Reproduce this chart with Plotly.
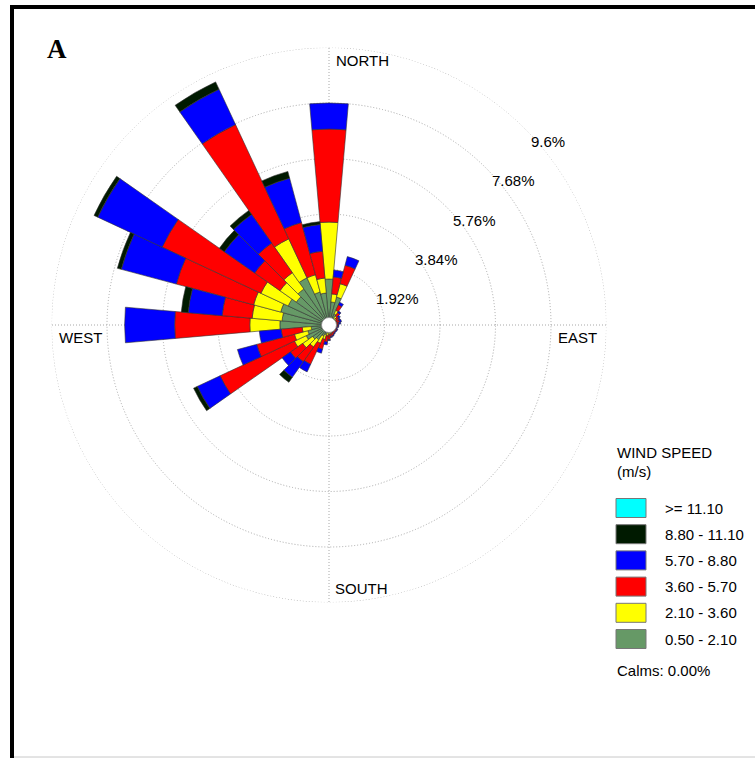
import plotly.graph_objects as go

# Wind directions (degrees clockwise from north), one bar every 10 degrees
directions = list(range(0, 360, 10))

# Frequency (%) of each wind-speed class per direction
calm_to_2_1 = [1.59, 0.80, 1.00, 0.42, 0.28, 0.21, 0.21, 0.21, 0.17, 0.17, 0.17, 0.17,
               0.17, 0.17, 0.17, 0.17, 0.21, 0.21, 0.24, 0.28, 0.35, 0.42, 0.62, 0.69,
               0.87, 0.76, 0.62, 1.70, 1.63, 1.73, 1.56, 1.38, 1.52, 1.80, 1.18, 1.11]
s2_1_to_3_6 = [1.97, 0.28, 0.48, 0.14, 0.10, 0.10, 0.07, 0.07, 0.10, 0.07, 0.07, 0.07,
               0.07, 0.07, 0.07, 0.07, 0.07, 0.10, 0.10, 0.10, 0.17, 0.28, 0.31, 0.42,
               0.45, 0.48, 0.31, 1.04, 1.04, 0.97, 1.04, 0.69, 0.69, 1.49, 0.62, 0.52]
s3_6_to_5_7 = [3.22, 0.59, 0.66, 0.21, 0.14, 0.10, 0.10, 0.10, 0.07, 0.07, 0.07, 0.03,
               0.07, 0.07, 0.07, 0.10, 0.10, 0.10, 0.17, 0.21, 0.35, 0.80, 0.62, 0.52,
               2.84, 1.35, 0.73, 2.60, 1.04, 2.77, 3.77, 1.07, 1.25, 4.36, 1.87, 0.93]
s5_7_to_8_8 = [0.90, 0.24, 0.31, 0.10, 0.07, 0.07, 0.05, 0.07, 0.07, 0.03, 0.03, 0.03,
               0.03, 0.03, 0.03, 0.03, 0.03, 0.03, 0.03, 0.10, 0.14, 0.29, 0.66, 0.35,
               0.87, 0.69, 0.76, 1.73, 1.18, 1.97, 2.46, 1.28, 1.21, 1.35, 1.59, 0.93]
s8_8_to_11_1 = [0.00, 0.00, 0.00, 0.00, 0.00, 0.00, 0.00, 0.00, 0.00, 0.00, 0.00, 0.00,
                0.00, 0.00, 0.00, 0.00, 0.00, 0.00, 0.00, 0.00, 0.00, 0.00, 0.21, 0.00,
                0.14, 0.00, 0.00, 0.00, 0.24, 0.14, 0.14, 0.21, 0.17, 0.28, 0.24, 0.10]
s_over_11_1 = [0.0] * 36

class_labels = [">= 11.10", "8.80 - 11.10", "5.70 - 8.80", "3.60 - 5.70", "2.10 - 3.60", "0.50 - 2.10"]
class_colors = ["#00FFFF", "#001A00", "#0000FF", "#FF0000", "#FFFF00", "#669966"]

ring_values = [1.92, 3.84, 5.76, 7.68, 9.6]
ring_labels = ["1.92%", "3.84%", "5.76%", "7.68%", "9.6%"]
calms_text = "Calms: 0.00%"

W, H = 755, 758
FONT = "Arial, Liberation Sans, sans-serif"
GRID = "#a8a8a8"
GRID_DASH = "1px,2px"


def px(x):
    return x / W


def py(y):
    return 1 - y / H


# stacked from the centre outwards: slowest class first
series = [s_over_11_1, s8_8_to_11_1, s5_7_to_8_8, s3_6_to_5_7, s2_1_to_3_6, calm_to_2_1]
fig = go.Figure()
for idx in range(5, -1, -1):
    fig.add_trace(go.Barpolar(
        r=series[idx], theta=directions, width=10,
        marker=dict(color=class_colors[idx], line=dict(color="#333333", width=0.6)),
        name=class_labels[idx], showlegend=False,
    ))

# dotted outer ring
fig.add_trace(go.Scatterpolar(
    r=[ring_values[-1]] * 361, theta=list(range(361)), mode="lines",
    line=dict(color=GRID, width=1, dash=GRID_DASH), hoverinfo="skip", showlegend=False,
))

cx, cy, R = 329, 325, 277.5
fig.update_layout(
    width=W, height=H, margin=dict(l=0, r=0, t=0, b=0),
    paper_bgcolor="white", plot_bgcolor="white",
    polar=dict(
        domain=dict(x=[px(cx - R), px(cx + R)], y=[py(cy + R), py(cy - R)]),
        bgcolor="white",
        radialaxis=dict(range=[0, ring_values[-1]], tickvals=ring_values, showticklabels=False,
                        ticks="", showline=False, gridcolor=GRID, griddash=GRID_DASH,
                        gridwidth=1, layer="below traces"),
        angularaxis=dict(direction="clockwise", rotation=90, tickvals=[0, 90, 180, 270],
                         showticklabels=False, ticks="", showline=False,
                         gridcolor=GRID, griddash=GRID_DASH, gridwidth=1,
                         layer="below traces"),
    ),
    font=dict(family=FONT, color="black"),
)

ann = []
# compass labels
for txt, x, y in [("NORTH", 334, 61), ("WEST", 57, 338), ("EAST", 556, 338), ("SOUTH", 333, 588)]:
    ann.append(dict(text=txt, x=px(x), y=py(y), xref="paper", yref="paper",
                    xanchor="left", yanchor="middle", showarrow=False,
                    font=dict(size=15, family=FONT)))
# ring labels
for txt, x, y in zip(ring_labels, [397, 436, 474, 513, 548], [298, 259, 220, 181, 142]):
    ann.append(dict(text=txt, x=px(x), y=py(y), xref="paper", yref="paper",
                    xanchor="center", yanchor="middle", showarrow=False,
                    font=dict(size=15, family=FONT)))
# panel letter
ann.append(dict(text="<b>A</b>", x=px(57), y=py(49), xref="paper", yref="paper",
                xanchor="center", yanchor="middle", showarrow=False,
                font=dict(size=27, family="Liberation Serif, Times New Roman, serif")))
# legend text
ann.append(dict(text="WIND SPEED", x=px(615), y=py(452), xref="paper", yref="paper",
                xanchor="left", yanchor="middle", showarrow=False, font=dict(size=15, family=FONT)))
ann.append(dict(text="(m/s)", x=px(615), y=py(471), xref="paper", yref="paper",
                xanchor="left", yanchor="middle", showarrow=False, font=dict(size=15, family=FONT)))
shapes = []
for i, (lab, col) in enumerate(zip(class_labels, class_colors)):
    top = 498.5 + i * 26.2
    shapes.append(dict(type="rect", xref="paper", yref="paper",
                       x0=px(616), x1=px(646), y0=py(top + 19), y1=py(top),
                       fillcolor=col, line=dict(color="#777777", width=1)))
    ann.append(dict(text=lab, x=px(663), y=py(top + 9.5), xref="paper", yref="paper",
                    xanchor="left", yanchor="middle", showarrow=False,
                    font=dict(size=15, family=FONT)))
ann.append(dict(text=calms_text, x=px(615), y=py(670), xref="paper", yref="paper",
                xanchor="left", yanchor="middle", showarrow=False, font=dict(size=15, family=FONT)))

# white calm circle at the centre
shapes.append(dict(type="circle", xref="paper", yref="paper",
                   x0=px(cx - 7.5), x1=px(cx + 7.5), y0=py(cy + 7.5), y1=py(cy - 7.5),
                   fillcolor="white", line=dict(color="#888888", width=0.8)))
# frame
shapes.append(dict(type="line", xref="paper", yref="paper", x0=px(12), x1=px(12),
                   y0=0, y1=py(5), line=dict(color="black", width=4)))
shapes.append(dict(type="line", xref="paper", yref="paper", x0=px(10), x1=1,
                   y0=py(7), y1=py(7), line=dict(color="black", width=4)))
shapes.append(dict(type="line", xref="paper", yref="paper", x0=px(14), x1=1,
                   y0=py(757), y1=py(757), line=dict(color="#c8c8c8", width=1)))

fig.update_layout(annotations=ann, shapes=shapes)
fig.write_html("out.html")
